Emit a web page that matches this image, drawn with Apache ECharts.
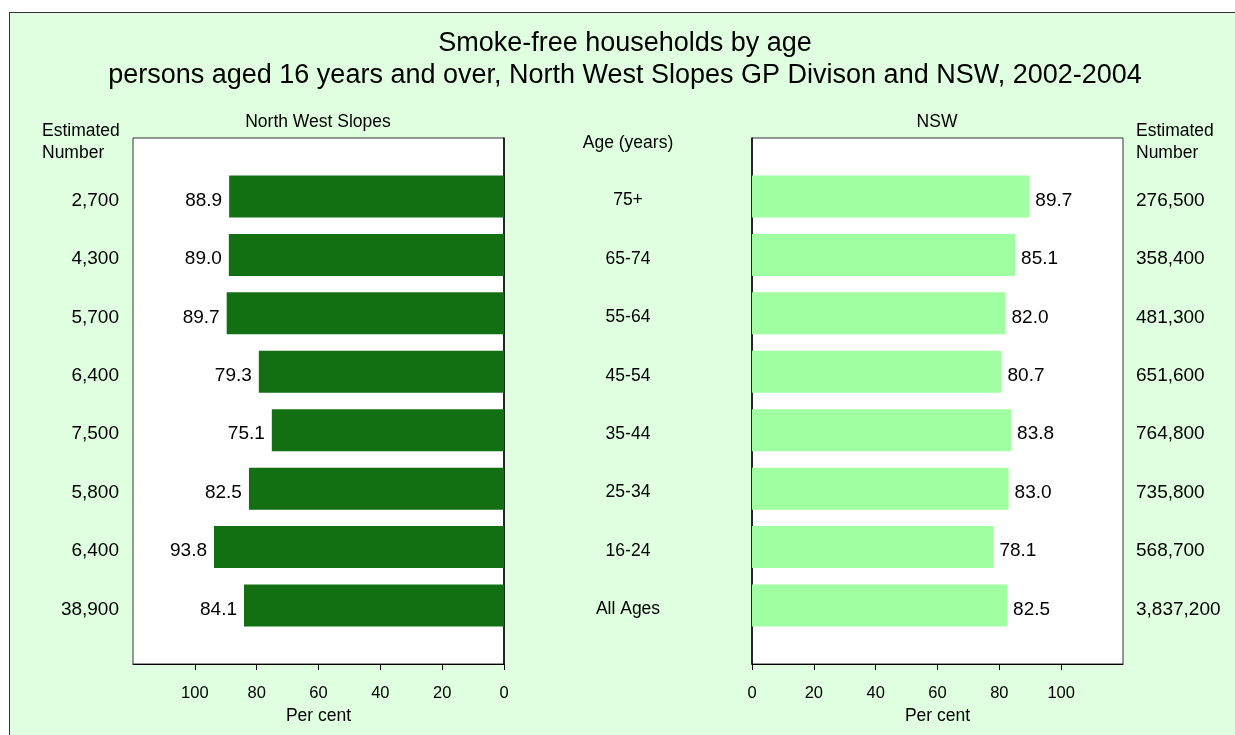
<!DOCTYPE html>
<html>
<head>
<meta charset="utf-8">
<script src="https://cdn.jsdelivr.net/npm/echarts@6/dist/echarts.min.js"></script>
<style>
  html, body { margin: 0; padding: 0; background: #ffffff; width: 1235px; height: 735px; overflow: hidden; }
  #frame { position: absolute; left: 9px; top: 12px; width: 1240px; height: 740px; background: #e0ffe0; border-left: 1px solid #333; border-top: 1px solid #333; }
  #chart { position: absolute; left: 0; top: 0; width: 1235px; height: 735px; }
</style>
</head>
<body>
<div id="frame"></div>
<div id="chart"></div>
<script>
const ageGroups = ['75+', '65-74', '55-64', '45-54', '35-44', '25-34', '16-24', 'All Ages'];
const nwsPercent = [88.9, 89.0, 89.7, 79.3, 75.1, 82.5, 93.8, 84.1];
const nswPercent = [89.7, 85.1, 82.0, 80.7, 83.8, 83.0, 78.1, 82.5];
const nwsNumber = [2700, 4300, 5700, 6400, 7500, 5800, 6400, 38900];
const nswNumber = [276500, 358400, 481300, 651600, 764800, 735800, 568700, 3837200];
const tickValues = [0, 20, 40, 60, 80, 100];

const FONT = "'Liberation Sans', Arial, sans-serif";
const fmt = v => v.toLocaleString('en-US');
const padCat = arr => [''].concat(arr).concat(['']);
const padVal = arr => ['-'].concat(arr).concat(['-']);

const chart = echarts.init(document.getElementById('chart'), null, { renderer: 'canvas' });

function xAxisCfg(gridIndex, inverse) {
  return {
    gridIndex: gridIndex, type: 'value', min: 0, max: 120, interval: 20, inverse: inverse,
    axisLine: { show: true, lineStyle: { color: '#000', width: 1 } },
    axisTick: { show: true, inside: false, length: 6, customValues: tickValues, lineStyle: { color: '#000' } },
    axisLabel: { customValues: tickValues, fontSize: 16.5, fontFamily: FONT, color: '#000', margin: 21 },
    splitLine: { show: false },
    name: 'Per cent', nameLocation: 'middle', nameGap: 36,
    nameTextStyle: { fontSize: 17.5, fontFamily: FONT, color: '#000' }
  };
}

function rowLabel(size, extra) {
  return Object.assign({
    show: true,
    formatter: v => (v === '' ? '' : '{a|' + v + '}'),
    rich: { a: { fontSize: size, fontFamily: FONT, color: '#000', padding: [8, 0, 0, 0] } }
  }, extra);
}

function yCat(gridIndex, position, data, showLine, label) {
  return {
    gridIndex: gridIndex, type: 'category', position: position, data: data,
    boundaryGap: false, inverse: true,
    axisLine: { show: showLine, lineStyle: { color: '#000', width: 1.5 } },
    axisTick: { show: false },
    splitLine: { show: false },
    axisLabel: label
  };
}

const hdr = { fontWeight: 'normal', color: '#000', fontFamily: FONT };

const option = {
  backgroundColor: 'transparent',
  animation: false,
  textStyle: { fontFamily: FONT },
  title: [
    { text: 'Smoke-free households by age\npersons aged 16 years and over, North West Slopes GP Divison and NSW, 2002-2004',
      left: 625, top: 28, textAlign: 'center', padding: 0,
      textStyle: Object.assign({ fontSize: 27, lineHeight: 32 }, hdr) },
    { text: 'North West Slopes', left: 318, top: 113, textAlign: 'center', padding: 0,
      textStyle: Object.assign({ fontSize: 17.5 }, hdr) },
    { text: 'NSW', left: 937, top: 113, textAlign: 'center', padding: 0,
      textStyle: Object.assign({ fontSize: 17.5 }, hdr) },
    { text: 'Age (years)', left: 628, top: 134, textAlign: 'center', padding: 0,
      textStyle: Object.assign({ fontSize: 17.5 }, hdr) },
    { text: 'Estimated\nNumber', left: 42, top: 120, padding: 0,
      textStyle: Object.assign({ fontSize: 17.5, lineHeight: 22 }, hdr) },
    { text: 'Estimated\nNumber', left: 1136, top: 120, padding: 0,
      textStyle: Object.assign({ fontSize: 17.5, lineHeight: 22 }, hdr) }
  ],
  grid: [
    { left: 133, top: 138, width: 371, height: 526, show: true, backgroundColor: '#ffffff', borderColor: '#333', borderWidth: 1 },
    { left: 752, top: 138, width: 371, height: 526, show: true, backgroundColor: '#ffffff', borderColor: '#333', borderWidth: 1 }
  ],
  xAxis: [ xAxisCfg(0, true), xAxisCfg(1, false) ],
  yAxis: [
    yCat(0, 'right', padCat(ageGroups), true, rowLabel(17.5, { align: 'center', margin: 124 })),
    yCat(0, 'left', padCat(nwsNumber.map(fmt)), false, rowLabel(19, { margin: 14 })),
    yCat(1, 'left', padCat(ageGroups), true, { show: false }),
    yCat(1, 'right', padCat(nswNumber.map(fmt)), false, rowLabel(19, { align: 'left', margin: 13 }))
  ],
  series: [
    { type: 'bar', xAxisIndex: 0, yAxisIndex: 0, data: padVal(nwsPercent), barWidth: 42,
      itemStyle: { color: '#127012' },
      label: { show: true, position: 'left', distance: 7, offset: [0, 4], fontSize: 19, fontFamily: FONT, color: '#000',
        formatter: p => Number(p.value).toFixed(1) } },
    { type: 'bar', xAxisIndex: 1, yAxisIndex: 2, data: padVal(nswPercent), barWidth: 42,
      itemStyle: { color: '#a0ffa0' },
      label: { show: true, position: 'right', distance: 6, offset: [0, 4], fontSize: 19, fontFamily: FONT, color: '#000',
        formatter: p => Number(p.value).toFixed(1) } }
  ]
};
chart.setOption(option);
</script>
</body>
</html>
